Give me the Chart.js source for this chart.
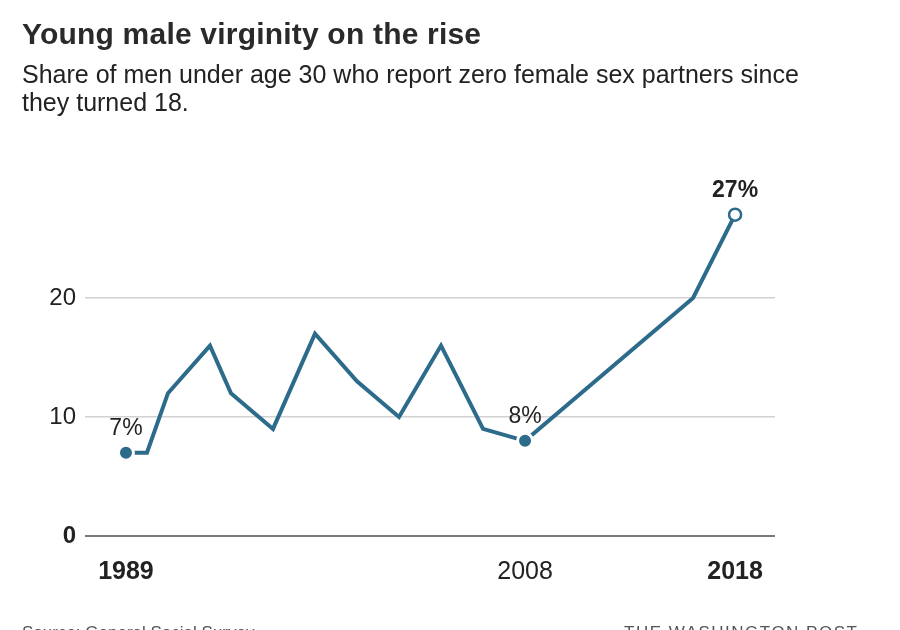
<!DOCTYPE html>
<html>
<head>
<meta charset="utf-8">
<script src="https://cdn.jsdelivr.net/npm/chart.js@4"></script>
<style>
  html, body { margin: 0; padding: 0; background: #fff; }
  body { width: 900px; height: 630px; overflow: hidden; position: relative; font-family: "Liberation Sans", sans-serif; }
  #wrap { position: absolute; left: 0; top: 0; width: 900px; height: 630px; }
  h1 { position: absolute; left: 22px; top: 17px; margin: 0; font-size: 30px; font-weight: bold; color: #2a2a2a; letter-spacing: 0.2px; }
  .sub { position: absolute; left: 22px; top: 60px; margin: 0; font-size: 25px; line-height: 28px; color: #222; width: 840px; }
  .foot { position: absolute; top: 623px; font-size: 17px; color: #555; }
</style>
</head>
<body>
<div id="wrap"><canvas id="c"></canvas></div>
<h1>Young male virginity on the rise</h1>
<p class="sub">Share of men under age 30 who report zero female sex partners since<br>they turned 18.</p>
<div class="foot" style="left:22px">Source: General Social Survey</div>
<div class="foot" style="left:624px;letter-spacing:1.5px">THE WASHINGTON POST</div>
<script>
// survey years and share of young men reporting no partners (%)
const years = [1989, 1990, 1991, 1993, 1994, 1996, 1998, 2000, 2002, 2004, 2006, 2008, 2016, 2018];
const shares = [7, 7, 12, 16, 12, 9, 17, 13, 10, 16, 9, 8, 20, 27];
const yTicks = [0, 10, 20];
const xTicks = [1989, 2008, 2018];
const boldYears = [1989, 2018];
const labelled = { 1989: '7%', 2008: '8%', 2018: '27%' };

const LINE = '#2d6b8b';
const FONT = '"Liberation Sans", sans-serif';

const pointLabels = {
  id: 'pointLabels',
  afterDatasetsDraw(chart) {
    const ctx = chart.ctx;
    const meta = chart.getDatasetMeta(0);
    ctx.save();
    ctx.textAlign = 'center';
    ctx.textBaseline = 'middle';
    meta.data.forEach((pt, i) => {
      const yr = years[i];
      if (!labelled[yr]) return;
      ctx.font = (yr === 2018 ? 'bold ' : '') + '23px ' + FONT;
      ctx.fillStyle = '#222';
      ctx.fillText(labelled[yr], pt.x, pt.y - 24);
    });
    ctx.restore();
  }
};

new Chart(document.getElementById('c'), {
  type: 'line',
  data: {
    datasets: [{
      data: years.map((y, i) => ({ x: y, y: shares[i] })),
      borderColor: LINE,
      borderWidth: 4,
      tension: 0,
      borderJoinStyle: 'miter',
      pointRadius: (c) => (labelled[years[c.dataIndex]] ? (years[c.dataIndex] === 2018 ? 6 : 7.5) : 0),
      pointBackgroundColor: (c) => (years[c.dataIndex] === 2018 ? '#fff' : LINE),
      pointBorderColor: (c) => (years[c.dataIndex] === 2018 ? LINE : '#fff'),
      pointBorderWidth: (c) => (years[c.dataIndex] === 2018 ? 2.5 : 3),
      pointHoverRadius: 0
    }]
  },
  options: {
    responsive: true,
    maintainAspectRatio: false,
    animation: false,
    layout: { padding: { top: 179, right: 125, left: 0, bottom: 0 } },
    plugins: { legend: { display: false }, tooltip: { enabled: false } },
    scales: {
      x: {
        type: 'linear',
        min: 1987.05,
        max: 2019.9,
        afterBuildTicks: (s) => { s.ticks = xTicks.map((v) => ({ value: v })); },
        afterFit: (s) => { s.height = 94; },
        grid: { display: false },
        border: { display: false },
        ticks: {
          padding: 13,
          color: '#222',
          font: (c) => ({ family: FONT, size: 25, weight: c.tick && boldYears.includes(c.tick.value) ? 'bold' : 'normal' }),
          callback: (v) => String(v),
          maxRotation: 0
        }
      },
      y: {
        min: 0,
        max: 30,
        afterBuildTicks: (s) => { s.ticks = yTicks.map((v) => ({ value: v })); },
        afterFit: (s) => { s.width = 85; },
        border: { display: false },
        grid: {
          drawTicks: false,
          color: (c) => (c.tick && c.tick.value === 0 ? '#7a7a7a' : '#d2d2d2'),
          lineWidth: (c) => (c.tick && c.tick.value === 0 ? 2 : 1.5)
        },
        ticks: {
          padding: 9,
          color: '#222',
          font: (c) => ({ family: FONT, size: 24, weight: c.tick && c.tick.value === 0 ? 'bold' : 'normal' })
        }
      }
    }
  },
  plugins: [pointLabels]
});
</script>
</body>
</html>
